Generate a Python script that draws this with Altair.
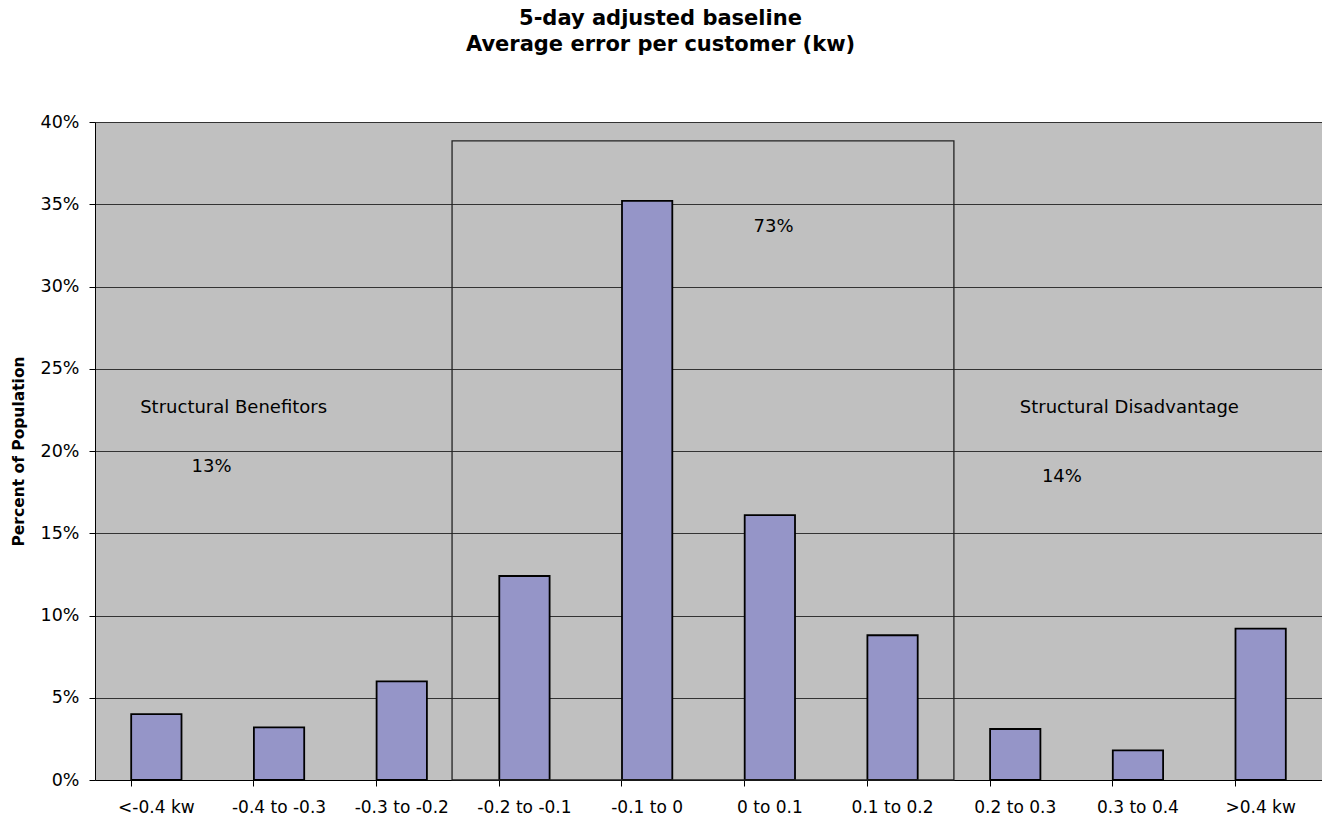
import altair as alt
import pandas as pd

categories = ["<-0.4 kw", "-0.4 to -0.3", "-0.3 to -0.2", "-0.2 to -0.1", "-0.1 to 0",
              "0 to 0.1", "0.1 to 0.2", "0.2 to 0.3", "0.3 to 0.4", ">0.4 kw"]
percent = [4.0, 3.2, 6.0, 12.4, 35.2, 16.1, 8.8, 3.1, 1.8, 9.2]

note_text = ["Structural Benefitors", "13%", "73%", "Structural Disadvantage", "14%"]
note_x = [1.13, 0.95, 5.53, 8.43, 7.88]
note_y = [22.6, 19.0, 33.6, 22.6, 18.4]

box_x = [2.91]
box_x2 = [7.0]
box_y = [0.0]
box_y2 = [38.85]

y_ticks = [0, 5, 10, 15, 20, 25, 30, 35, 40]

FONT = "DejaVu Sans"

bars_df = pd.DataFrame({"cat": categories, "pct": percent})
notes_df = pd.DataFrame({"text": note_text, "x": note_x, "y": note_y})
box_df = pd.DataFrame({"x": box_x, "x2": box_x2, "y": box_y, "y2": box_y2})

yscale = alt.Scale(domain=[0, 40], nice=False)
xq = alt.Scale(domain=[0, 10], nice=False, zero=False)

bars = alt.Chart(bars_df).mark_bar(
    color="#9595C8", stroke="black", strokeWidth=1.8
).encode(
    x=alt.X("cat:N", sort=categories, title=None,
            scale=alt.Scale(paddingInner=0.59, paddingOuter=0.295),
            axis=alt.Axis(bandPosition=0, labelAngle=0, grid=False,
                          labelFont=FONT, labelFontSize=17, labelColor="black",
                          tickColor="black", tickSize=6, domainColor="black",
                          labelPadding=13)),
    y=alt.Y("pct:Q", scale=yscale, title="Percent of Population",
            axis=alt.Axis(values=y_ticks, labelExpr="datum.value + '%'",
                          labelFont=FONT, labelFontSize=17.5, labelColor="black",
                          tickColor="black", tickSize=6, domainColor="black",
                          gridColor="#333333", gridWidth=1, labelPadding=10,
                          titleFont=FONT, titleFontSize=15.5, titleFontWeight="bold",
                          titleColor="black", titlePadding=14)),
)

box = alt.Chart(box_df).mark_rect(
    fill=None, fillOpacity=0, stroke="#222222", strokeWidth=1.3
).encode(
    x=alt.X("x:Q", scale=xq, axis=None),
    x2="x2:Q",
    y=alt.Y("y:Q", scale=yscale),
    y2="y2:Q",
)

notes = alt.Chart(notes_df).mark_text(
    font=FONT, fontSize=18, color="black", align="center", baseline="middle"
).encode(
    x=alt.X("x:Q", scale=xq, axis=None),
    y=alt.Y("y:Q", scale=yscale),
    text="text:N",
)

chart = alt.layer(bars, box, notes).resolve_scale(x="independent").properties(
    width=1227, height=658,
    background="white",
    title=alt.TitleParams(
        text=["5-day adjusted baseline", "Average error per customer (kw)"],
        font=FONT, fontSize=21, fontWeight="bold", color="black",
        anchor="middle", dx=-48, offset=58, lineHeight=26,
    ),
    autosize=alt.AutoSizeParams(type="none"),
    padding={"left": 95, "top": 122, "right": 0, "bottom": 39},
).configure_view(fill="#C0C0C0", strokeWidth=0)

chart.save("out.html", embed_options={"renderer": "svg", "actions": False})
